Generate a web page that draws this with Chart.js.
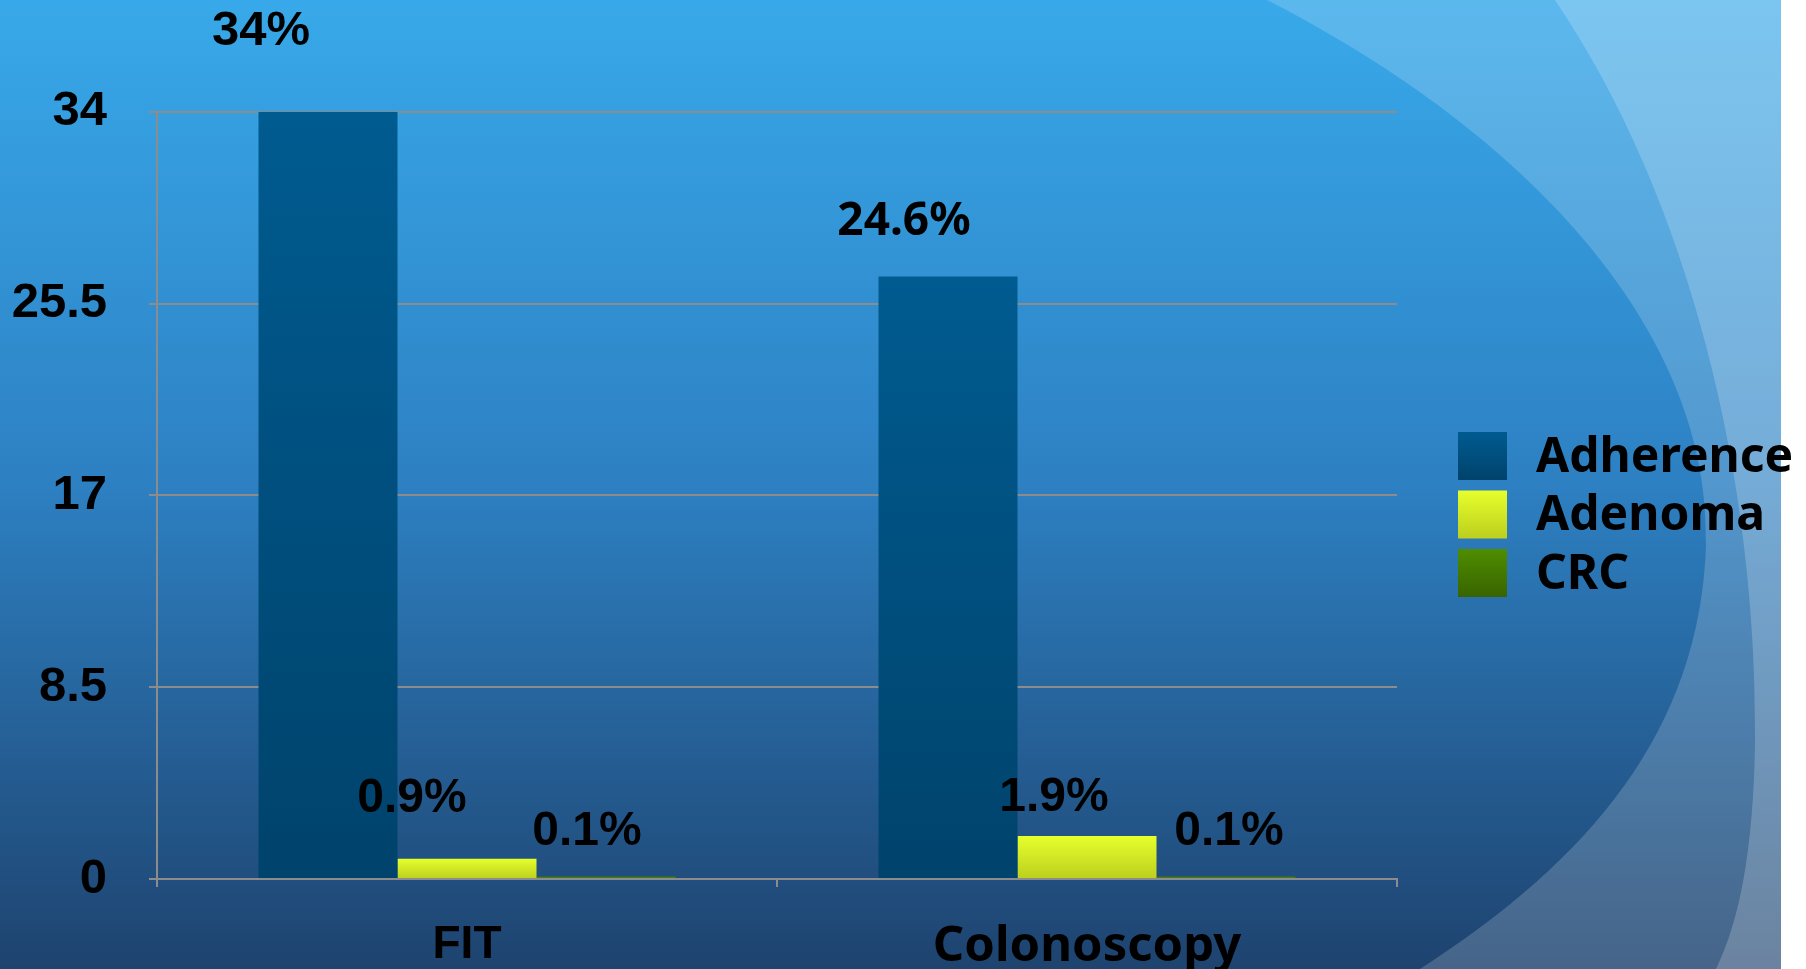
<!DOCTYPE html>
<html>
<head>
<meta charset="utf-8">
<script src="https://cdn.jsdelivr.net/npm/chart.js@4/dist/chart.umd.min.js"></script>
<style>
  html, body { margin: 0; padding: 0; background: #fff; }
  #wrap { width: 1806px; height: 969px; position: relative; }
</style>
</head>
<body>
<div id="wrap"><canvas id="c" width="1806" height="969"></canvas></div>
<script>
// ---- data ----
const categories = ['FIT', 'Colonoscopy'];
const seriesNames = ['Adherence', 'Adenoma', 'CRC'];
const adherence = [34, 26.7];
const adenoma = [0.9, 1.9];
const crc = [0.1, 0.1];
const adherenceLabels = ['34%', '24.6%'];
const adenomaLabels = ['0.9%', '1.9%'];
const crcLabels = ['0.1%', '0.1%'];
const yTicks = [0, 8.5, 17, 25.5, 34];

// ---- styles ----
const NARROW = "'Liberation Sans', Arial, sans-serif";
const NW = 'bold';
const GEO = "'Noto Sans', 'DejaVu Sans', sans-serif";
const gradStops = [
  ['#005b90', '#00436c'],
  ['#e6ff2c', '#bccf1e'],
  ['#4f8d00', '#386400']
];
const solid = ['#004f7e', '#d4ec26', '#447a00'];

function barGradient(idx) {
  return function (ctx) {
    const chart = ctx.chart;
    if (!chart.chartArea || ctx.type !== 'data') return solid[idx];
    const y = chart.scales.y;
    const top = y.getPixelForValue(ctx.raw);
    const bot = y.getPixelForValue(0);
    if (!isFinite(top) || bot - top < 1) return solid[idx];
    const g = chart.ctx.createLinearGradient(0, top, 0, bot);
    g.addColorStop(0, gradStops[idx][0]);
    g.addColorStop(1, gradStops[idx][1]);
    return g;
  };
}

// label placement relative to bar (center x, top y)
const labelStyle = {
  0: { texts: adherenceLabels, dx: [-67, -44], dy: [-80, -55], font: [[NW, 49, NARROW], ['bold', 46, GEO]] },
  1: { texts: adenomaLabels, dx: [-55, -33], dy: [-60, -38], font: [[NW, 48, NARROW], [NW, 48, NARROW]] },
  2: { texts: crcLabels, dx: [-19, 3], dy: [-45, -45], font: [[NW, 48, NARROW], [NW, 48, NARROW]] }
};

const bgPlugin = {
  id: 'bg',
  beforeDraw(chart) {
    const c = chart.ctx, W = chart.width, H = chart.height;
    c.save();
    const g = c.createLinearGradient(0, 0, 0, H);
    g.addColorStop(0, '#38a9ea');
    g.addColorStop(0.5, '#2d80c2');
    g.addColorStop(1, '#1e436f');
    c.fillStyle = g;
    c.fillRect(0, 0, W, H);
    // curve A
    c.beginPath();
    c.moveTo(1267, 0);
    c.bezierCurveTo(1540, 140, 1712, 340, 1706, 545);
    c.bezierCurveTo(1700, 730, 1590, 860, 1420, 969);
    c.lineTo(W, H); c.lineTo(W, 0); c.closePath();
    c.fillStyle = 'rgba(255,255,255,0.18)';
    c.fill();
    // curve B
    c.beginPath();
    c.moveTo(1555, 0);
    c.bezierCurveTo(1690, 200, 1758, 480, 1755, 745);
    c.bezierCurveTo(1753, 850, 1740, 920, 1716, 969);
    c.lineTo(W, H); c.lineTo(W, 0); c.closePath();
    c.fillStyle = 'rgba(255,255,255,0.2)';
    c.fill();
    // white strip
    c.fillStyle = '#ffffff';
    c.fillRect(1781, 0, W - 1781, H);
    c.restore();
  }
};

const labelPlugin = {
  id: 'valLabels',
  afterDatasetsDraw(chart) {
    const c = chart.ctx;
    c.save();
    c.fillStyle = '#000';
    c.textAlign = 'center';
    c.textBaseline = 'middle';
    chart.data.datasets.forEach((ds, di) => {
      const meta = chart.getDatasetMeta(di);
      const st = labelStyle[di];
      meta.data.forEach((bar, i) => {
        const f = st.font[i];
        c.font = f[0] + ' ' + f[1] + 'px ' + f[2];
        c.fillText(st.texts[i], bar.x + st.dx[i], bar.y + st.dy[i]);
      });
    });
    c.restore();
  }
};

const legendPlugin = {
  id: 'customLegend',
  afterDraw(chart) {
    const c = chart.ctx;
    c.save();
    const x0 = 1458, y0 = 432, sw = 49, sh = 48, pitch = 58.5;
    chart.data.datasets.forEach((ds, i) => {
      const y = y0 + i * pitch;
      const g = c.createLinearGradient(0, y, 0, y + sh);
      g.addColorStop(0, gradStops[i][0]);
      g.addColorStop(1, gradStops[i][1]);
      c.fillStyle = g;
      c.fillRect(x0, y, sw, sh);
      c.fillStyle = '#000';
      c.font = 'bold 48px ' + GEO;
      c.textAlign = 'left';
      c.textBaseline = 'middle';
      c.fillText(ds.label, 1536, y + sh / 2 + 2);
    });
    c.restore();
  }
};

const gridColor = '#8c8c8c';

new Chart(document.getElementById('c'), {
  type: 'bar',
  data: {
    labels: categories,
    datasets: [
      { label: seriesNames[0], data: adherence, backgroundColor: barGradient(0) },
      { label: seriesNames[1], data: adenoma, backgroundColor: barGradient(1) },
      { label: seriesNames[2], data: crc, backgroundColor: barGradient(2) }
    ]
  },
  options: {
    responsive: false,
    animation: false,
    devicePixelRatio: 1,
    layout: { padding: { top: 111.7, right: 409, left: 0, bottom: 0 } },
    datasets: { bar: { categoryPercentage: 0.6726, barPercentage: 1.0, borderWidth: 0 } },
    plugins: { legend: { display: false }, tooltip: { enabled: false } },
    scales: {
      x: {
        z: 1,
        offset: true,
        grid: { offset: true, drawOnChartArea: false, drawTicks: true, tickLength: 8, color: gridColor, lineWidth: 2 },
        border: { display: true, color: gridColor, width: 2 },
        ticks: {
          color: '#000',
          padding: 31,
          maxRotation: 0,
          font: (ctx) => ctx.index === 0
            ? { family: NARROW, size: 46, weight: NW }
            : { family: GEO, size: 49, weight: 'bold' }
        },
        afterFit(scale) { scale.height = 90; }
      },
      y: {
        min: 0,
        max: 34,
        afterBuildTicks(scale) { scale.ticks = yTicks.map(v => ({ value: v })); },
        grid: { color: gridColor, lineWidth: 2, tickLength: 8, drawTicks: true },
        border: { display: true, color: gridColor, width: 2 },
        ticks: {
          color: '#000',
          padding: 42,
          font: { family: NARROW, size: 49, weight: NW },
          callback: (v) => String(v)
        },
        afterFit(scale) { scale.width = 157; }
      }
    }
  },
  plugins: [bgPlugin, labelPlugin, legendPlugin]
});
</script>
</body>
</html>
